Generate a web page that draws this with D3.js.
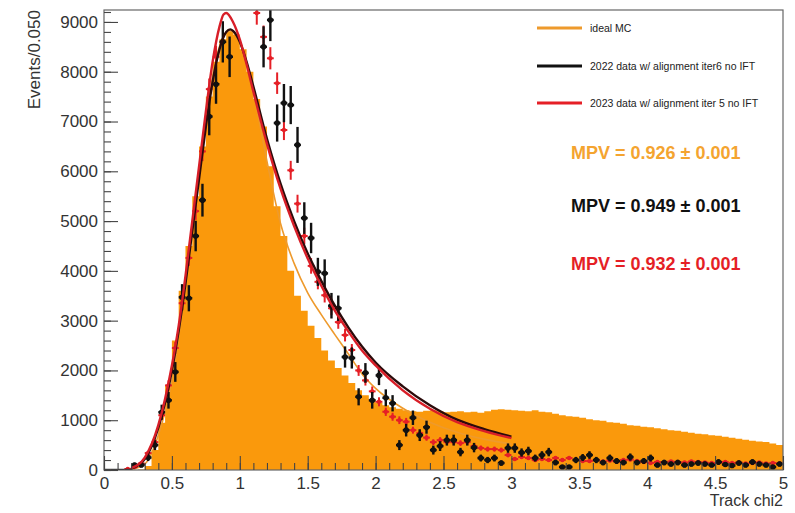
<!DOCTYPE html>
<html>
<head>
<meta charset="utf-8">
<script src="https://cdn.jsdelivr.net/npm/d3@7"></script>
<style>
  html, body { margin: 0; padding: 0; background: #fff; }
  svg { display: block; font-family: "Liberation Sans", Arial, Helvetica, sans-serif; }
</style>
</head>
<body>
<svg id="chart" width="795" height="513"></svg>
<script>
// ---------------- DATA ----------------
const binWidth = 0.05;
const nBins = 100;
const xDomain = [0, 5];
const yDomain = [0, 9240];
const xMajorTicks = [0, 0.5, 1, 1.5, 2, 2.5, 3, 3.5, 4, 4.5, 5];
const xTickLabels = ["0", "0.5", "1", "1.5", "2", "2.5", "3", "3.5", "4", "4.5", "5"];
const yMajorTicks = [0, 1000, 2000, 3000, 4000, 5000, 6000, 7000, 8000, 9000];
const yTickLabels = ["0", "1000", "2000", "3000", "4000", "5000", "6000", "7000", "8000", "9000"];

// ideal MC histogram (bin contents, bins of 0.05 from 0 to 5)
const mcCounts = [
  0, 0, 0, 0, 0, 10, 80, 400, 950, 1700,
  2600, 3600, 4500, 5500, 6500, 7500, 8200, 8650, 8800, 8750,
  8450, 8000, 7450, 6900, 6100, 5300, 4700, 4000, 3500, 3200,
  2900, 2650, 2400, 2200, 2050, 1900, 1750, 1600, 1500, 1420,
  1350, 1300, 1260, 1230, 1200, 1180, 1170, 1190, 1200, 1180,
  1160, 1170, 1180, 1160, 1170, 1150, 1180, 1210, 1220, 1210,
  1200, 1190, 1180, 1200, 1170, 1160, 1130, 1100, 1080, 1070,
  1050, 1020, 1000, 990, 960, 950, 930, 900, 890, 870,
  860, 840, 820, 800, 790, 770, 750, 730, 720, 700,
  690, 670, 650, 630, 610, 590, 570, 560, 530, 500
];

// 2022 data w/ alignment iter6 no IFT
const data2022 = [
  0, 0, 0, 0, 100, 100, 250, 500, 1160, 1400,
  1970, 3470, 3450, 4700, 5420, 7100, 7750, 8600, 8300, 9800,
  10000, 9900, 9700, 8500, 9040, 6970, 7370, 7330, 6530, 5060,
  4660, 3980, 3950, 3300, 3250, 2270, 2250, 1470, 1950, 1400,
  1900, 1450, 1340, 500, 800, 1050, 700, 860, 400, 480,
  600, 600, 360, 600, 450, 240, 200, 240, 140, 440,
  440, 350, 380, 240, 300, 360, 150, 60, 60, 200,
  250, 300, 200, 150, 240, 180, 150, 260, 150, 180,
  240, 100, 150, 120, 150, 100, 120, 140, 120, 100,
  160, 110, 90, 140, 100, 160, 120, 100, 60, 120
];

// 2023 data w/ alignment iter 5 no IFT
const data2023 = [
  0, 0, 0, 20, 60, 130, 340, 560, 1100, 1700,
  2450, 3350, 4260, 5200, 6400, 7650, 8300, 9600, 9800, 9950,
  9900, 9700, 9180, 8700, 8270, 7770, 6830, 6020, 5350, 4700,
  4100, 3780, 3510, 3250, 2970, 2710, 2410, 2000, 1800, 1580,
  1370, 1170, 1070, 1000, 970, 800, 740, 650, 560, 600,
  560, 560, 540, 560, 480, 440, 420, 420, 400, 300,
  220, 260, 240, 200, 220, 200, 240, 200, 240, 200,
  180, 180, 200, 170, 190, 170, 200, 210, 180, 160,
  140, 160, 150, 170, 160, 150, 170, 160, 150, 140,
  150, 160, 140, 150, 130, 140, 150, 130, 140, 130
];

// per-event weight (squared) used for the data error bars, sqrt(sum w^2)
const weight2022 = 20;
const weight2023 = 6;

// fitted curves (x = Track chi2, y = events)
const fitMC_x = [0.2, 0.3, 0.4, 0.5, 0.6, 0.7, 0.8, 0.85, 0.926, 1.0, 1.1, 1.2, 1.3, 1.4, 1.5, 1.6, 1.7, 1.8, 1.9, 2.0, 2.2, 2.4, 2.6, 2.8, 3.0];
const fitMC_y = [10, 120, 700, 1800, 3700, 6000, 7900, 8500, 8820, 8600, 7600, 6200, 4950, 4150, 3560, 3120, 2720, 2330, 1930, 1640, 1240, 960, 760, 620, 520];

const fit2022_x = [0.2, 0.3, 0.4, 0.5, 0.55, 0.6, 0.65, 0.7, 0.75, 0.8, 0.85, 0.9, 0.93, 0.95, 1.0, 1.05, 1.1, 1.2, 1.3, 1.4, 1.5, 1.6, 1.7, 1.8, 1.9, 2.0, 2.2, 2.4, 2.6, 2.8, 3.0];
const fit2022_y = [30, 220, 850, 2000, 2800, 3750, 4800, 5850, 6900, 7800, 8450, 8800, 8850, 8820, 8600, 8200, 7700, 6650, 5750, 5000, 4350, 3800, 3300, 2860, 2480, 2160, 1680, 1300, 1010, 820, 670];

const fit2023_x = [0.2, 0.3, 0.4, 0.5, 0.55, 0.6, 0.65, 0.7, 0.75, 0.8, 0.85, 0.88, 0.9, 0.95, 1.0, 1.05, 1.1, 1.2, 1.3, 1.4, 1.5, 1.6, 1.7, 1.8, 1.9, 2.0, 2.2, 2.4, 2.6, 2.8, 3.0];
const fit2023_y = [40, 250, 900, 2100, 2900, 3900, 5000, 6100, 7200, 8200, 8900, 9150, 9180, 9000, 8650, 8150, 7600, 6550, 5650, 4900, 4250, 3700, 3200, 2780, 2400, 2100, 1600, 1230, 960, 780, 640];

const legendLabels = ["ideal MC", "2022 data w/ alignment iter6 no IFT", "2023 data w/ alignment iter 5 no IFT"];
const mpvLabels = ["MPV = 0.926 \u00b1 0.001", "MPV = 0.949 \u00b1 0.001", "MPV = 0.932 \u00b1 0.001"];
const xTitle = "Track chi2";
const yTitle = "Events/0.050";

// ---------------- STYLE / LAYOUT ----------------
const pL = 104, pR = 783, pT = 10, pB = 470;
const colMC = "#fa990c", colMCLine = "#ee9a2c", colMCText = "#f4a430";
const col2022 = "#111111", col2022Fit = "#2b0b0b";
const col2023 = "#e51f26", col2023Fit = "#d81e28";
const axisCol = "#444";

const svg = d3.select("#chart");
const x = d3.scaleLinear().domain(xDomain).range([pL, pR]);
const y = d3.scaleLinear().domain(yDomain).range([pB, pT]);

svg.append("defs").append("clipPath").attr("id", "plotclip")
  .append("rect").attr("x", pL).attr("y", pT).attr("width", pR - pL).attr("height", pB - pT);

const plot = svg.append("g").attr("clip-path", "url(#plotclip)");

const bins = d3.range(nBins).map(i => ({ lo: i * binWidth, hi: (i + 1) * binWidth }));

// histogram
const histPts = bins.map((b, i) => ({ x: b.lo, v: mcCounts[i] }));
histPts.push({ x: xDomain[1], v: mcCounts[nBins - 1] });
plot.append("path")
  .datum(histPts)
  .attr("fill", colMC)
  .attr("d", d3.area().x(d => x(d.x)).y0(y(0)).y1(d => y(d.v)).curve(d3.curveStepAfter));

// fit curves
const line = d3.line().x(d => x(d[0])).y(d => y(d[1])).curve(d3.curveMonotoneX);
plot.append("path").datum(d3.zip(fitMC_x, fitMC_y))
  .attr("fill", "none").attr("stroke", colMCLine).attr("stroke-width", 1.6).attr("d", line);

// data points
function drawPoints(values, w2, color, r, sw) {
  const g = plot.append("g");
  bins.forEach((b, i) => {
    const v = values[i];
    const e = Math.sqrt(v * w2);
    const cx = x((b.lo + b.hi) / 2);
    g.append("line").attr("x1", x(b.lo)).attr("x2", x(b.hi)).attr("y1", y(v)).attr("y2", y(v))
      .attr("stroke", color).attr("stroke-width", sw);
    if (v > 0) {
      g.append("line").attr("x1", cx).attr("x2", cx).attr("y1", y(v - e)).attr("y2", y(v + e))
        .attr("stroke", color).attr("stroke-width", sw);
      g.append("circle").attr("cx", cx).attr("cy", y(v)).attr("r", r).attr("fill", color);
    }
  });
}
drawPoints(data2023, weight2023, col2023, 2.2, 2);
drawPoints(data2022, weight2022, col2022, 2.8, 2.4);

plot.append("path").datum(d3.zip(fit2022_x, fit2022_y))
  .attr("fill", "none").attr("stroke", col2022Fit).attr("stroke-width", 2.4).attr("d", line);
plot.append("path").datum(d3.zip(fit2023_x, fit2023_y))
  .attr("fill", "none").attr("stroke", col2023Fit).attr("stroke-width", 2.4).attr("d", line);

// frame
svg.append("rect").attr("x", pL).attr("y", pT).attr("width", pR - pL).attr("height", pB - pT)
  .attr("fill", "none").attr("stroke", "#666").attr("stroke-width", 1.2);

// axes
const yMinor = d3.range(0, yDomain[1], 200);
const xMinor = d3.range(0, 5.0001, 0.1);

const yAxisG = svg.append("g").attr("transform", `translate(${pL},0)`)
  .call(d3.axisLeft(y).tickValues(yMajorTicks).tickSize(-14).tickPadding(6)
    .tickFormat((d, i) => yTickLabels[i]));
svg.append("g").attr("transform", `translate(${pL},0)`)
  .call(d3.axisLeft(y).tickValues(yMinor).tickSize(-7).tickFormat(""));
const xAxisG = svg.append("g").attr("transform", `translate(0,${pB})`)
  .call(d3.axisBottom(x).tickValues(xMajorTicks).tickSize(-14).tickPadding(7)
    .tickFormat((d, i) => xTickLabels[i]));
svg.append("g").attr("transform", `translate(0,${pB})`)
  .call(d3.axisBottom(x).tickValues(xMinor).tickSize(-7).tickFormat(""));

svg.selectAll(".domain").remove();
svg.selectAll(".tick line").attr("stroke", axisCol).attr("stroke-width", 1.1);
yAxisG.selectAll("text").attr("font-size", 17).attr("fill", "#333").attr("font-family", "Liberation Sans, Arial, sans-serif");
xAxisG.selectAll("text").attr("font-size", 17).attr("fill", "#333").attr("font-family", "Liberation Sans, Arial, sans-serif");

// axis titles
svg.append("text").attr("transform", `translate(40,${pT}) rotate(-90)`)
  .attr("text-anchor", "end").attr("font-size", 17).attr("fill", "#333").text(yTitle);
svg.append("text").attr("x", pR).attr("y", 506)
  .attr("text-anchor", "end").attr("font-size", 16).attr("fill", "#333").text(xTitle);

// legend
const legendColors = [colMCLine, col2022, col2023];
const legendY = [28, 66, 103];
legendLabels.forEach((t, i) => {
  svg.append("line").attr("x1", 537).attr("x2", 582).attr("y1", legendY[i]).attr("y2", legendY[i])
    .attr("stroke", legendColors[i]).attr("stroke-width", 3);
  svg.append("text").attr("x", 590).attr("y", legendY[i] + 3.5).attr("font-size", 10.5)
    .attr("fill", "#222").text(t);
});

// MPV labels
const mpvColors = [colMCText, col2022, col2023];
const mpvY = [152, 205, 263];
mpvLabels.forEach((t, i) => {
  svg.append("text").attr("x", 571).attr("y", mpvY[i] + 6.5).attr("font-size", 18)
    .attr("font-weight", "bold").attr("fill", mpvColors[i]).text(t);
});
</script>
</body>
</html>
